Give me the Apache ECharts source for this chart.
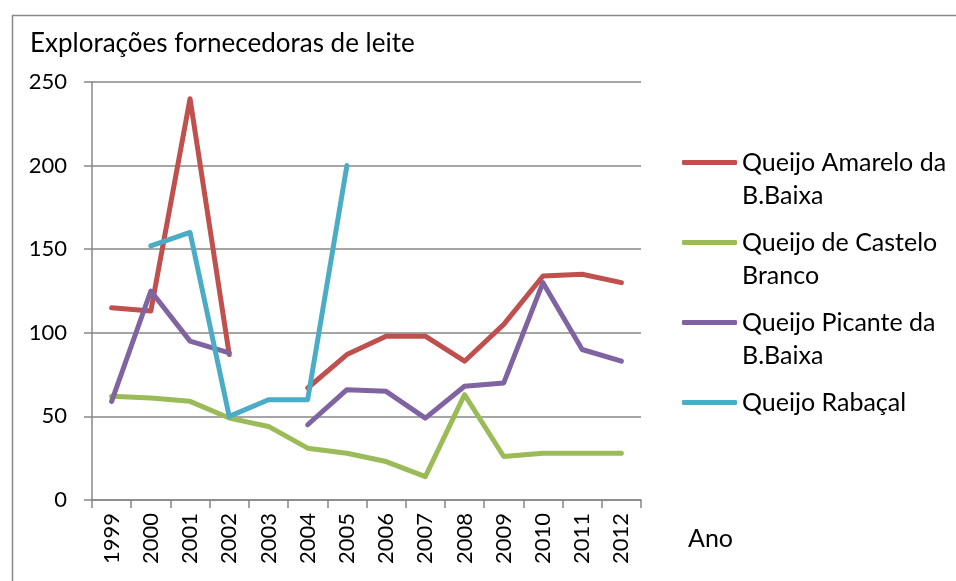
<!DOCTYPE html>
<html>
<head>
<meta charset="utf-8">
<script src="https://cdn.jsdelivr.net/npm/echarts@6/dist/echarts.min.js"></script>
<style>html,body{margin:0;padding:0;background:#fff}#c{width:956px;height:581px}</style>
</head>
<body>
<div id="c"></div>
<script>
const years = ['1999','2000','2001','2002','2003','2004','2005','2006','2007','2008','2009','2010','2011','2012'];
const amarelo = [115, 113, 240, 87, null, 67, 87, 98, 98, 83, 105, 134, 135, 130];
const castelo = [62, 61, 59, 49, 44, 31, 28, 23, 14, 63, 26, 28, 28, 28];
const picante = [59, 125, 95, 88, null, 45, 66, 65, 49, 68, 70, 130, 90, 83];
const rabacal = [null, 152, 160, 50, 60, 60, 200, null, null, null, null, null, null, null];
const seriesNames = ['Queijo Amarelo da B.Baixa', 'Queijo de Castelo Branco', 'Queijo Picante da B.Baixa', 'Queijo Rabaçal'];
const legendLabels = ['Queijo Amarelo da\nB.Baixa', 'Queijo de Castelo\nBranco', 'Queijo Picante da\nB.Baixa', 'Queijo Rabaçal\n'];
const yTicks = [0, 50, 100, 150, 200, 250];
const titleText = 'Explorações fornecedoras de leite';
const xName = 'Ano';

const colors = ['#C0504D', '#9BBB59', '#8064A2', '#4BACC6'];
const FONT = 'Lato';
const TFS = 25;
const LH = 33;

const chart = echarts.init(document.getElementById('c'), null, {renderer: 'canvas'});
const dataSets = [amarelo, castelo, picante, rabacal];

chart.setOption({
  animation: false,
  backgroundColor: '#fff',
  graphic: [{
    type: 'rect', left: 10, top: 13, silent: true,
    shape: {width: 1000, height: 1000},
    style: {fill: 'none', stroke: '#898989', lineWidth: 1.5}
  }],
  title: [
    {text: titleText, left: 30, top: 31, padding: 0,
     textStyle: {fontFamily: FONT, fontSize: 26, fontWeight: 'normal', color: '#000'}},
    {text: xName, left: 688, top: 526, padding: 0,
     textStyle: {fontFamily: FONT, fontSize: TFS, fontWeight: 'normal', color: '#000'}}
  ],
  grid: {left: 92, right: 315, top: 82, bottom: 81, containLabel: false},
  legend: {
    orient: 'vertical', left: 682, top: 113, padding: 0, itemGap: -19,
    itemWidth: 55, itemHeight: 5, icon: 'roundRect', selectedMode: false,
    formatter: function (name) { return '\n' + legendLabels[seriesNames.indexOf(name)]; },
    textStyle: {fontFamily: FONT, fontSize: TFS, color: '#000', lineHeight: LH},
    data: seriesNames
  },
  xAxis: {
    type: 'category', data: years, boundaryGap: true,
    axisLine: {lineStyle: {color: '#878787', width: 1.5}},
    axisTick: {show: true, length: 8, interval: 0, lineStyle: {color: '#878787', width: 1.5}},
    axisLabel: {rotate: 90, interval: 0, margin: 13, fontFamily: FONT, fontSize: 22, color: '#000'},
    splitLine: {show: false}
  },
  yAxis: {
    type: 'value', min: yTicks[0], max: yTicks[yTicks.length - 1], interval: 50,
    axisLine: {show: true, lineStyle: {color: '#878787', width: 1.5}},
    axisTick: {show: true, length: 8, lineStyle: {color: '#878787', width: 1.5}},
    axisLabel: {margin: 25, fontFamily: FONT, fontSize: 22, color: '#000'},
    splitLine: {show: true, lineStyle: {color: '#878787', width: 1.5}}
  },
  series: seriesNames.map(function (n, i) {
    return {
      name: n, type: 'line', data: dataSets[i], connectNulls: false,
      showSymbol: false, symbol: 'none',
      itemStyle: {color: colors[i]},
      lineStyle: {color: colors[i], width: 5, cap: 'round', join: 'round'}
    };
  })
});
</script>
</body>
</html>
